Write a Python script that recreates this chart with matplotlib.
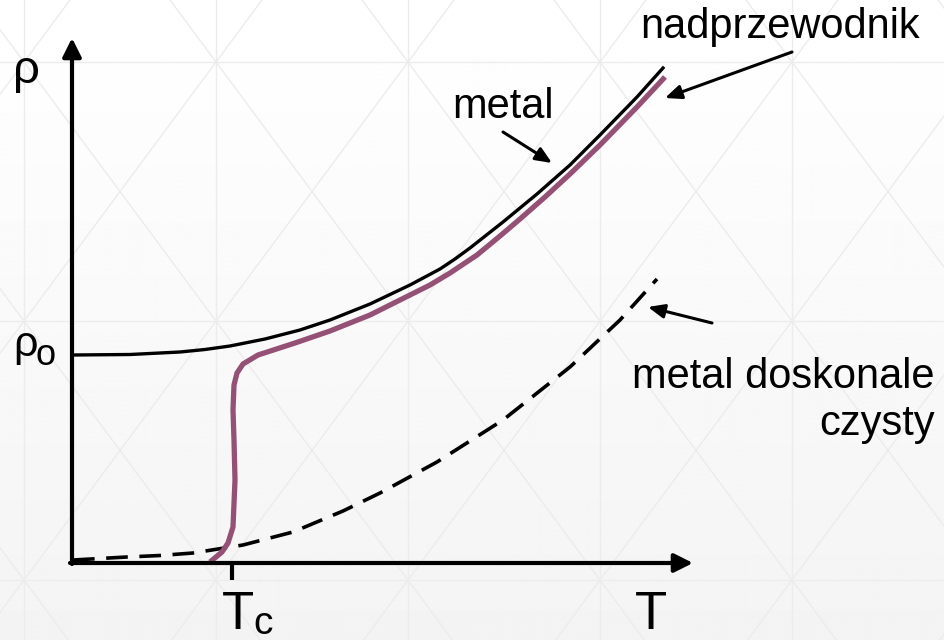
import numpy as np
import matplotlib.pyplot as plt

plt.rcParams['font.family'] = ['Liberation Sans', 'DejaVu Sans']

# schematyczne krzywe (T, rho) w jednostkach umownych
metal_T = [0.01, 0.58, 1.08, 1.33, 1.58, 1.93, 2.28, 2.58, 2.98, 3.38, 3.53, 3.68, 3.83, 3.98, 4.31, 4.65, 4.98, 5.28, 5.65, 5.91]
metal_rho = [2.08, 2.085, 2.11, 2.135, 2.17, 2.24, 2.33, 2.43, 2.59, 2.78, 2.86, 2.94, 3.04, 3.15, 3.41, 3.69, 3.98, 4.28, 4.66, 4.95]

nadprz_T = [1.38, 1.50, 1.56, 1.61, 1.63, 1.62, 1.61, 1.62, 1.65, 1.71, 1.86, 2.23, 2.58, 2.98, 3.38,
            3.58, 3.78, 4.05, 4.28, 4.48, 4.73, 4.98, 5.28, 5.65, 5.93]
nadprz_rho = [0.01, 0.11, 0.20, 0.36, 0.83, 1.23, 1.53, 1.78, 1.90, 1.99, 2.08, 2.20, 2.32, 2.48, 2.68,
              2.78, 2.90, 3.08, 3.27, 3.44, 3.66, 3.89, 4.18, 4.56, 4.86]

czysty_T = [0.01, 0.55, 0.88, 1.21, 1.71, 2.21, 2.71, 3.08, 3.65, 4.31, 4.98, 5.48, 5.85]
czysty_rho = [0.03, 0.06, 0.075, 0.10, 0.18, 0.31, 0.52, 0.70, 1.01, 1.43, 1.96, 2.43, 2.84]

Tc = 1.60
T_max = 6.21
rho_max = 5.25

fig = plt.figure(figsize=(9.44, 6.4), dpi=100)

# tlo slajdu: gradient + delikatna siatka trojkatow
bg = fig.add_axes([0, 0, 1, 1])
bg.axis('off')
grad = np.linspace(1.0, 0.955, 256).reshape(-1, 1)
bg.imshow(grad, cmap='gray', vmin=0, vmax=1, extent=[0, 944, 640, 0], aspect='auto')
xs = np.arange(-168, 1200, 192)
ys = np.arange(-197, 900, 259)
for x in xs:
    bg.plot([x, x], [0, 640], color='#ececec', lw=1)
for y in ys:
    bg.plot([0, 944], [y, y], color='#ececec', lw=1)
for i in range(len(xs) - 1):
    for j in range(len(ys) - 1):
        bg.plot([xs[i], xs[i + 1]], [ys[j], ys[j + 1]], color='#ececec', lw=1)
        bg.plot([xs[i + 1], xs[i]], [ys[j], ys[j + 1]], color='#ececec', lw=1)
bg.set_xlim(0, 944)
bg.set_ylim(640, 0)

ax = fig.add_axes([0, 0, 1, 1])
ax.patch.set_alpha(0)
ax.set_xlim(-0.72, 8.72)
ax.set_ylim(-0.77, 5.63)
ax.axis('off')

# osie ze strzalkami
ax.annotate('', xy=(0, rho_max), xytext=(0, -0.01),
            arrowprops=dict(arrowstyle='-|>,head_length=0.8,head_width=0.4', lw=3, color='black',
                            shrinkA=0, shrinkB=0, mutation_scale=14))
ax.annotate('', xy=(T_max, 0), xytext=(-0.02, 0),
            arrowprops=dict(arrowstyle='-|>,head_length=0.8,head_width=0.4', lw=3, color='black',
                            shrinkA=0, shrinkB=0, mutation_scale=14))
ax.plot([Tc, Tc], [0, -0.17], color='black', lw=3, solid_capstyle='butt')

# krzywe
ax.plot(metal_T, metal_rho, color='black', lw=2.4, solid_joinstyle='round')
ax.plot(czysty_T, czysty_rho, color='black', lw=2.6, dashes=(6, 3.2))
ax.plot(nadprz_T, nadprz_rho, color='#955175', lw=3.8, solid_joinstyle='round', solid_capstyle='butt')

# opisy osi
ax.text(-0.59, 4.80, 'ρ', fontsize=34, ha='left', va='baseline')
ax.text(-0.59, 2.07, 'ρ', fontsize=31, ha='left', va='baseline')
ax.text(-0.36, 1.98, 'o', fontsize=26, ha='left', va='baseline')
ax.text(1.66, -0.66, 'T', fontsize=38, ha='center', va='baseline')
ax.text(1.81, -0.71, 'c', fontsize=28, ha='left', va='baseline')
ax.text(5.79, -0.66, 'T', fontsize=38, ha='center', va='baseline')

# podpisy krzywych
arrow = dict(arrowstyle='-|>,head_length=0.7,head_width=0.3', lw=2.2, color='black',
             shrinkA=0, shrinkB=0, mutation_scale=14)
ax.text(4.31, 4.45, 'metal', fontsize=30, ha='center', va='baseline')
ax.annotate('', xy=(4.80, 4.00), xytext=(4.31, 4.31), arrowprops=arrow)
ax.text(7.08, 5.25, 'nadprzewodnik', fontsize=30, ha='center', va='baseline')
ax.annotate('', xy=(5.93, 4.65), xytext=(7.20, 5.11), arrowprops=arrow)
ax.text(8.63, 1.75, 'metal doskonale', fontsize=30, ha='right', va='baseline')
ax.text(8.63, 1.28, 'czysty', fontsize=30, ha='right', va='baseline')
ax.annotate('', xy=(5.76, 2.56), xytext=(6.40, 2.40), arrowprops=arrow)

plt.savefig('out.png', dpi=100)
